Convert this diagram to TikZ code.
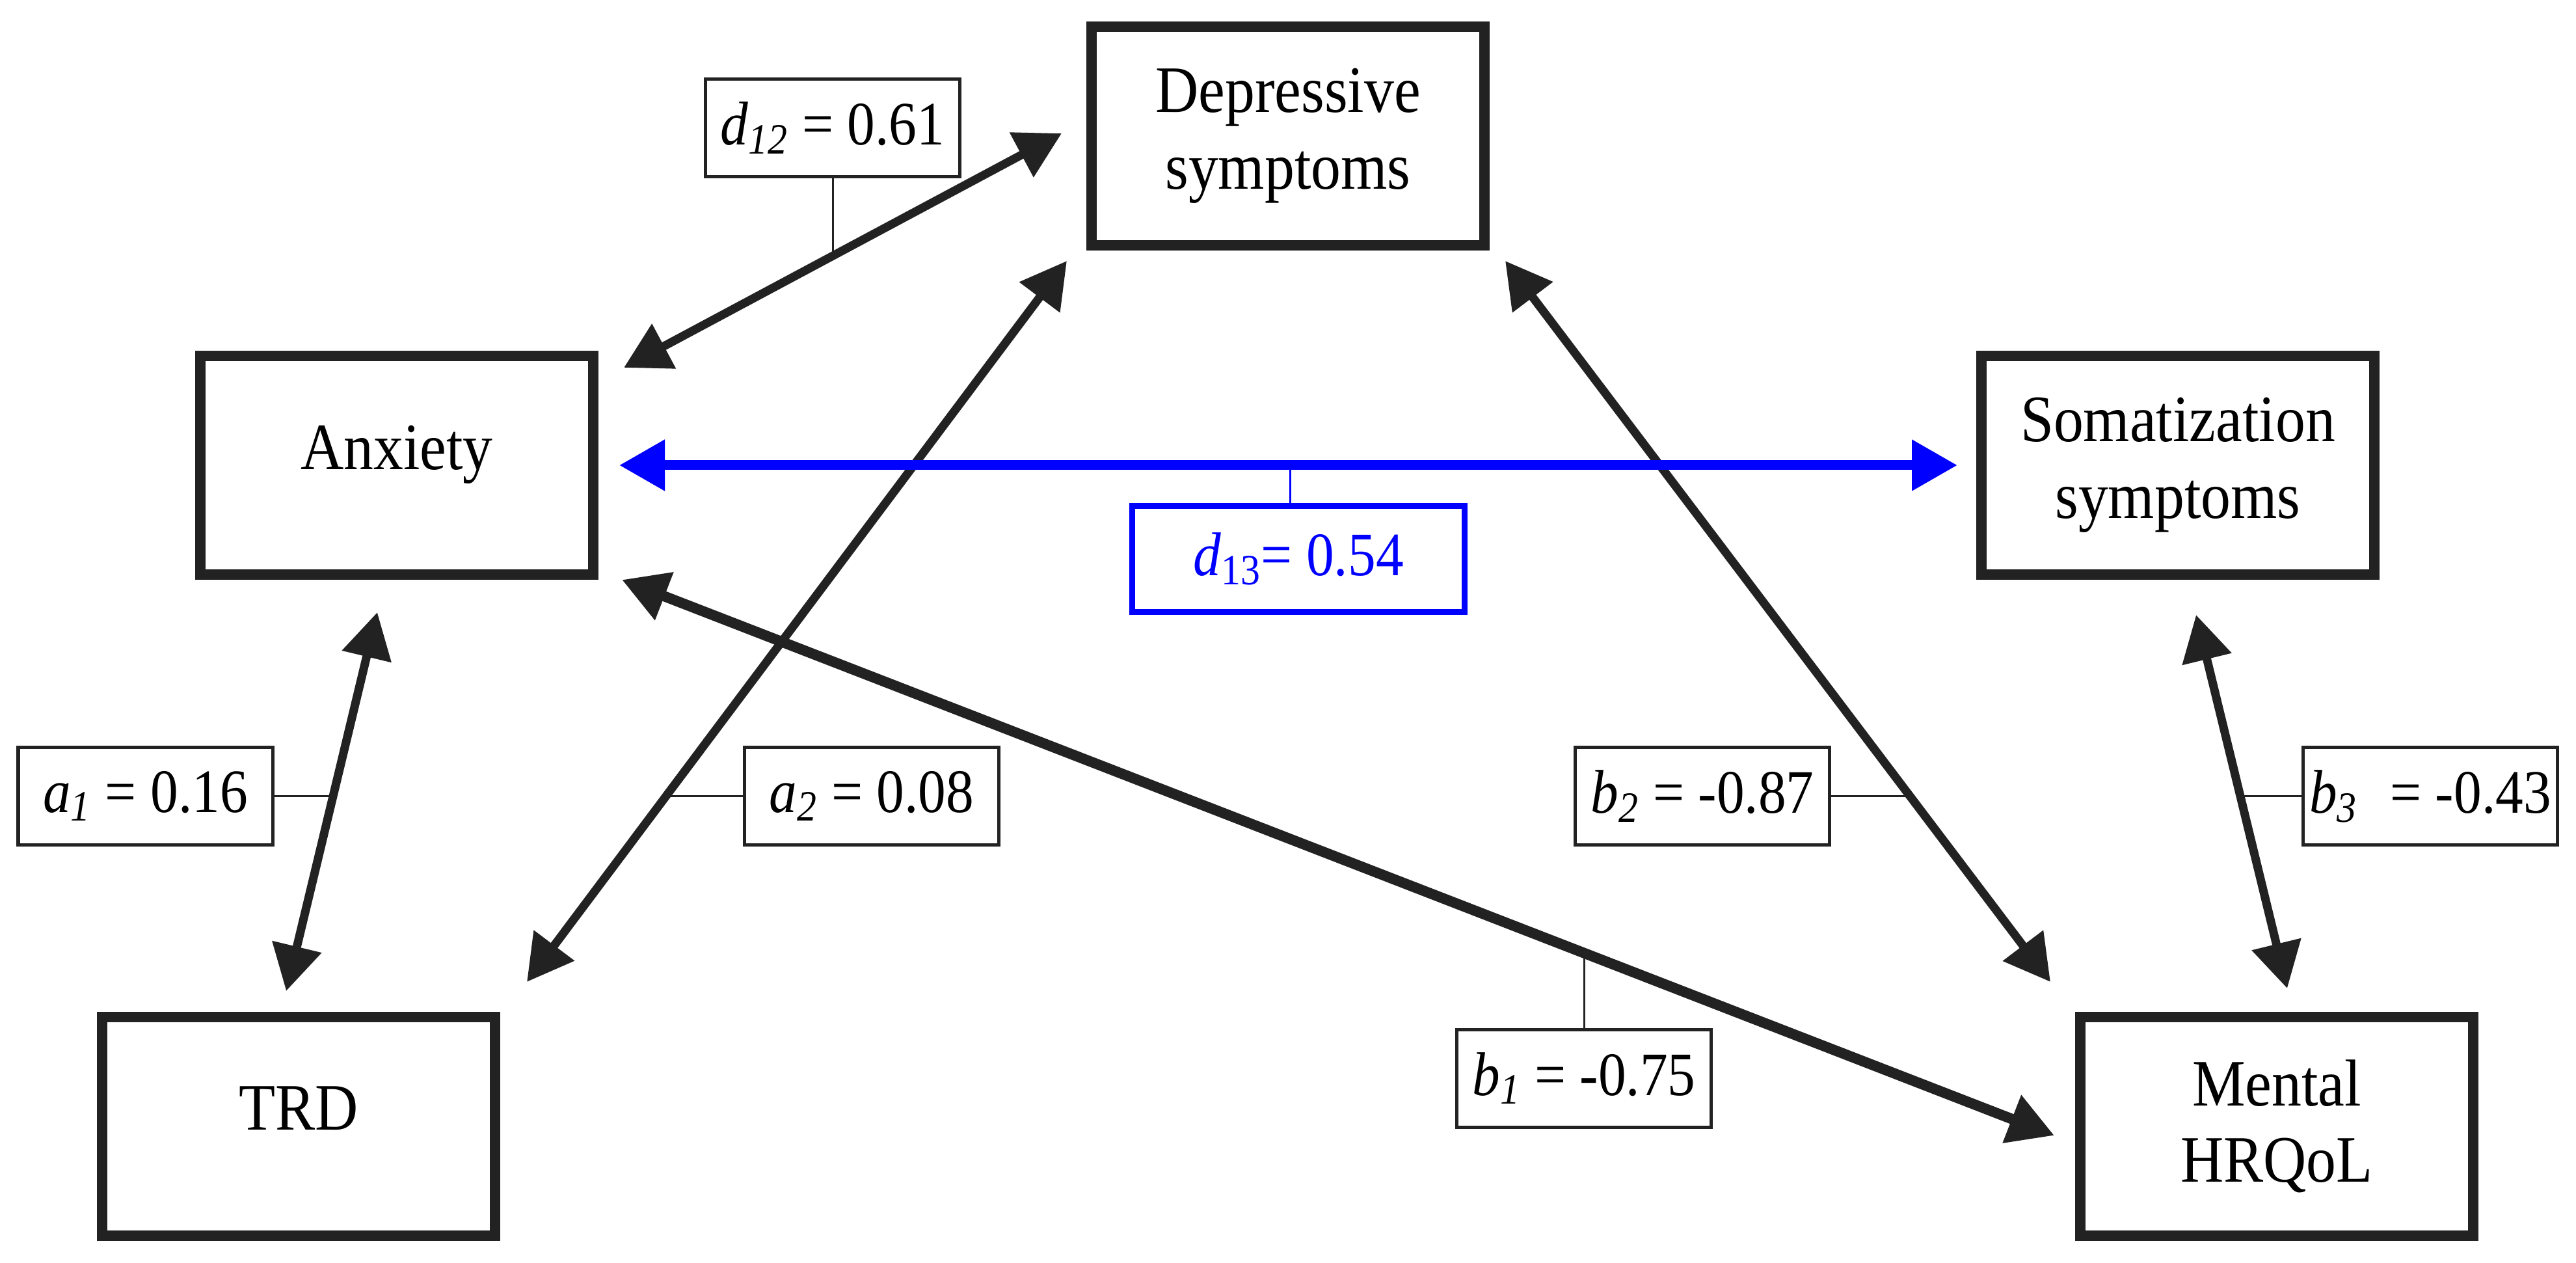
\documentclass[tikz,border=0pt]{standalone}
\usepackage{fontspec}
\setmainfont[FakeStretch=0.9]{Liberation Serif}
\usetikzlibrary{arrows.meta,calc}
\definecolor{ink}{RGB}{34,34,34}
\definecolor{pblue}{RGB}{0,0,255}

\begin{document}
\begin{tikzpicture}[
    var/.style={draw=ink, line width=.16cm, minimum width=6.04cm, minimum height=3.36cm,
      inner sep=0pt, align=center, font=\fontsize{29}{33.5}\selectfont},
    one/.style={text depth=.55cm},
    coef/.style={draw=ink, line width=.05cm, minimum width=3.91cm, minimum height=1.5cm,
      inner sep=0pt, font=\fontsize{27}{30}\selectfont},
    path/.style={ink, line width=.13cm,
      {Triangle[length=7mm,width=7.5mm]}-{Triangle[length=7mm,width=7.5mm]}},
    stem/.style={ink, line width=.03cm}
  ]
			\useasboundingbox (0,0) rectangle (39.6,-19.41);
			% variables
			\node[var] (dep) at (19.80,-2.09) {Depressive\\symptoms};
			\node[var,one] (anx) at (6.10,-7.15) {Anxiety};
			\node[var] (som) at (33.48,-7.15) {Somatization\\symptoms};
			\node[var,one] (trd) at (4.59,-17.31) {TRD};
			\node[var] (men) at (35.00,-17.31) {Mental\\HRQoL};
			% coefficients
			\node[coef] (d12) at (12.80,-1.965) {\textit{d}\textsubscript{\textit{12}} = 0.61};
			\node[coef, draw=pblue, text=pblue, line width=.09cm, minimum width=5.11cm, minimum height=1.63cm] (d13) at (19.96,-8.59) {\textit{d}\textsubscript{13}= 0.54};
			\node[coef] (a1) at (2.235,-12.235) {\textit{a}\textsubscript{\textit{1}} = 0.16};
			\node[coef] (a2) at (13.40,-12.235) {\textit{a}\textsubscript{\textit{2}} = 0.08};
			\node[coef] (b2) at (26.17,-12.235) {\textit{b}\textsubscript{\textit{2}} = -0.87};
			\node[coef] (b3) at (37.36,-12.235) {\textit{b}\textsubscript{\textit{3}}\hspace{.3em} = -0.43};
			\node[coef] (b1) at (24.35,-16.57) {\textit{b}\textsubscript{\textit{1}} = -0.75};
			% paths
			\draw[path] ([shift={(.39,-.26)}]anx.north east) -- ([shift={(-.38,.04)}]dep.west);
			\draw[path] ([shift={(-.30,-.16)}]dep.south west) -- ([shift={(.41,.46)}]trd.north east);
			\draw[path] ([shift={(.24,-.16)}]dep.south east) -- ([shift={(-.38,.46)}]men.north west);
			\draw[path, pblue, line width=.15cm] ([xshift=.32cm]anx.east) -- ([xshift=-.29cm]som.west);
			\draw[path, line width=.16cm] ([xshift=.36cm]anx.south east) -- ([shift={(-.32,-.14)}]men.west);
			\draw[path] ([shift={(-.30,-.50)}]anx.south) -- ([shift={(-.19,.32)}]trd.north);
			\draw[path] ([shift={(.28,-.54)}]som.south) -- ([shift={(.16,.36)}]men.north);
			% stems
			\draw[stem] (d12.south) -- ++(0,-1.17);
			\draw[stem, pblue] ([xshift=-.13cm]d13.north) -- ++(0,.55);
			\draw[stem] (a1.east) -- ++(.9,0);
			\draw[stem] (a2.west) -- ++(-1.21,0);
			\draw[stem] (b2.east) -- ++(1.26,0);
			\draw[stem] (b3.west) -- ++(-.93,0);
			\draw[stem] (b1.north) -- ++(0,1.16);
\end{tikzpicture}
\end{document}
